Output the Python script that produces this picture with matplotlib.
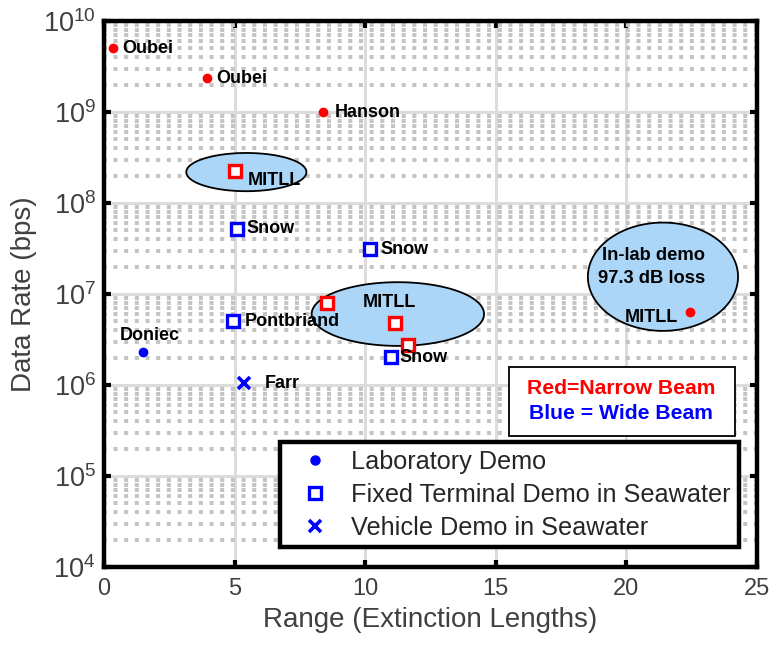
import numpy as np
import matplotlib
matplotlib.use("Agg")
import matplotlib.pyplot as plt
from matplotlib.patches import Polygon, Rectangle
from matplotlib.lines import Line2D

plt.rcParams['font.family'] = ['Liberation Sans', 'DejaVu Sans']
plt.rcParams['mathtext.fontset'] = 'custom'
plt.rcParams['mathtext.rm'] = 'Liberation Sans'
plt.rcParams['mathtext.it'] = 'Liberation Sans'

# Laboratory demos (filled dots)
lab_x = [0.35, 3.95, 8.4, 1.5, 22.45]
lab_y = [5.0e9, 2.35e9, 1.0e9, 2.3e6, 6.3e6]
lab_beam = ['narrow', 'narrow', 'narrow', 'wide', 'narrow']

# Fixed terminal demos in seawater (open squares)
fix_x = [5.0, 5.1, 10.2, 8.55, 11.15, 11.65, 11.0, 4.95]
fix_y = [2.25e8, 5.2e7, 3.1e7, 7.9e6, 4.8e6, 2.75e6, 2.03e6, 5.05e6]
fix_beam = ['narrow', 'wide', 'wide', 'narrow', 'narrow', 'narrow', 'wide', 'wide']

# Vehicle demos in seawater (crosses)
veh_x = [5.35]
veh_y = [1.05e6]

# Point labels: text, x, y
labels = [
    ("Oubei", 0.68, 5.0e9, 'left', 'center'),
    ("Oubei", 4.3, 2.35e9, 'left', 'center'),
    ("Hanson", 8.85, 1.0e9, 'left', 'center'),
    ("MITLL", 5.5, 1.75e8, 'left', 'center'),
    ("Snow", 5.45, 5.2e7, 'left', 'center'),
    ("Snow", 10.6, 3.1e7, 'left', 'center'),
    ("MITLL", 9.9, 8.0e6, 'left', 'center'),
    ("Pontbriand", 5.4, 5.05e6, 'left', 'center'),
    ("Doniec", 0.6, 3.5e6, 'left', 'center'),
    ("Farr", 6.15, 1.05e6, 'left', 'center'),
    ("Snow", 11.3, 2.03e6, 'left', 'center'),
    ("MITLL", 19.95, 5.5e6, 'left', 'center'),
]

# Highlight ellipses: centre x, centre log10(y), width (x units), height (decades)
ell_cx = [5.45, 11.25, 21.4]
ell_cly = [8.34, 6.78, 7.19]
ell_w = [4.6, 6.6, 5.75]
ell_h = [0.42, 0.70, 1.19]

ell_text = ["In-lab demo", "97.3 dB loss"]

legend_labels = ["Laboratory Demo", "Fixed Terminal Demo in Seawater",
                 "Vehicle Demo in Seawater"]

RED = '#ff0000'
BLUE = '#0000ff'
col = {'narrow': RED, 'wide': BLUE}

fig = plt.figure(figsize=(7.74, 6.45), dpi=100)
ax = fig.add_axes([0.1344, 0.1209, 0.8436, 0.8465])
ax.set_yscale('log')
ax.set_xlim(0, 25)
ax.set_ylim(1e4, 1e10)

# grid: solid major lines, dotted minor lines on the log axis
ax.set_axisbelow(True)
ax.grid(True, which='major', axis='both', color='#dcdcdc', lw=2.2, ls='-')
ax.yaxis.set_minor_locator(matplotlib.ticker.LogLocator(base=10, subs=np.arange(2, 10)))
ax.grid(True, which='minor', axis='y', color='#c4c4c4', lw=2.9,
        ls=(0.3, (1.0, 1.65)), dash_capstyle='butt')

for s in ax.spines.values():
    s.set_linewidth(3.2)
    s.set_color('black')
ax.tick_params(which='major', direction='in', length=5, width=3, color='black',
               top=True, right=True, labelsize=17, labelcolor='#404040', pad=8)
ax.tick_params(axis='y', which='major', labelsize=19.5, pad=6)
ax.tick_params(which='minor', length=0, top=True, right=True)
ax.set_xticks([0, 5, 10, 15, 20, 25])
ax.set_yticks([1e4, 1e5, 1e6, 1e7, 1e8, 1e9, 1e10])
ax.set_yticklabels([r'$10^{%d}$' % k for k in range(4, 11)])
ax.set_xlabel("Range (Extinction Lengths)", fontsize=20, color='#404040', labelpad=5)
ax.set_ylabel("Data Rate (bps)", fontsize=20, color='#404040', labelpad=4)

# ellipses drawn in (x, log10 y) space
t = np.linspace(0, 2 * np.pi, 200)
for cx, cly, w, h in zip(ell_cx, ell_cly, ell_w, ell_h):
    px = cx + 0.5 * w * np.cos(t)
    py = 10 ** (cly + 0.5 * h * np.sin(t))
    ax.add_patch(Polygon(np.column_stack([px, py]), closed=True,
                         facecolor='#acd6f8', edgecolor='black', lw=1.3, zorder=3))

# markers
for x, y, b in zip(lab_x, lab_y, lab_beam):
    ax.plot(x, y, 'o', color=col[b], ms=6, zorder=5)
for x, y, b in zip(fix_x, fix_y, fix_beam):
    ax.plot(x, y, 's', mfc='white', mec=col[b], ms=9, mew=2.4, zorder=5)
ax.plot(veh_x, veh_y, 'x', color=BLUE, ms=9, mew=2.6, zorder=5)

for txt, x, y, ha, va in labels:
    ax.text(x, y, txt, fontsize=13, fontweight='bold', ha=ha, va=va,
            color='black', zorder=6)

ax.text(21.05, 10 ** 7.42, ell_text[0], fontsize=13.2, fontweight='bold',
        ha='center', va='center', zorder=6)
ax.text(20.95, 10 ** 7.17, ell_text[1], fontsize=13.2, fontweight='bold',
        ha='center', va='center', zorder=6)

# beam colour key
ax.add_patch(Rectangle((0.6195, 0.2392), 0.3461, 0.1263, transform=ax.transAxes,
                       facecolor='white', edgecolor='black', lw=1.3, zorder=6))
ax.text(0.792, 0.327, "Red=Narrow Beam", transform=ax.transAxes, color=RED,
        fontsize=15.2, fontweight='bold', ha='center', va='center', zorder=7)
ax.text(0.792, 0.281, "Blue = Wide Beam", transform=ax.transAxes, color=BLUE,
        fontsize=15.2, fontweight='bold', ha='center', va='center', zorder=7)

handles = [
    Line2D([], [], ls='none', marker='o', color=BLUE, ms=6.5),
    Line2D([], [], ls='none', marker='s', mfc='white', mec=BLUE, ms=9, mew=2.4),
    Line2D([], [], ls='none', marker='x', color=BLUE, ms=9, mew=2.6),
]
leg = ax.legend(handles, legend_labels, loc='lower left',
                bbox_to_anchor=(0.2695, 0.036, 0.703, 0.192), mode='expand',
                fontsize=18.2, frameon=True, fancybox=False, framealpha=1,
                edgecolor='black', handlelength=2.2, handletextpad=0.3,
                borderpad=0.3, labelspacing=0.36, borderaxespad=0)
leg.get_frame().set_linewidth(3.2)
for tx in leg.get_texts():
    tx.set_color('#262626')
leg.set_zorder(8)

fig.savefig('out.png', dpi=100)
